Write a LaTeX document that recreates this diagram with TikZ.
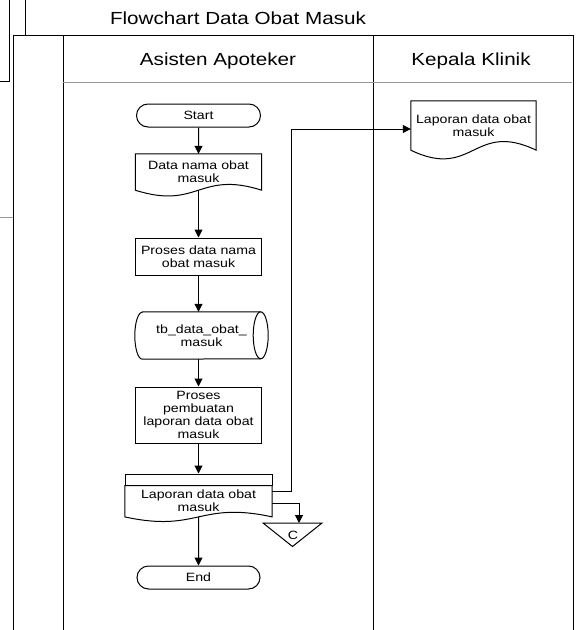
\documentclass[tikz,border=0pt]{standalone}
\usepackage{fontspec}
\setmainfont[FakeStretch=1.18]{Liberation Sans}
\usepackage{xcolor}
\usepackage{tikz}
\usetikzlibrary{arrows.meta,shapes.misc,calc,positioning}
\colorlet{colorLane}{black}
\colorlet{colorHead}{gray!80}
\colorlet{colorFlow}{black}
\tikzset{
   every path/.style={>={Triangle[length=8pt,width=8pt]}},
   flow/.style={->,draw=colorFlow,line width=1pt},
   lane/.style={draw=colorLane,line width=1pt},
   head/.style={draw=colorHead,line width=1pt},
   caption/.style={anchor=base,font=\fontsize{17.5}{20}\selectfont},
   term/.style={rounded rectangle,draw,line width=1pt,minimum width=126pt,minimum height=23pt,inner sep=1pt},
   proc/.style={rectangle,draw,line width=1pt,minimum width=126pt,align=center,inner sep=1pt},
   doc/.style={rectangle,minimum width=126pt,align=center,inner sep=1pt},
   store/.style={rectangle,minimum width=133pt,minimum height=47pt,align=center,inner sep=1pt},
}
% outline of a document symbol: flat top, wavy bottom
\newcommand{\docedge}[3]{%
  \draw[line width=1pt] (#1.north west) -- (#1.north east) -- (#1.south east)
    .. controls +(-#2,#3) and +(#2,-#3) .. (#1.south west) -- cycle;}

\begin{document}
\begin{tikzpicture}[x=1pt,y=1pt,font=\fontsize{12}{13}\selectfont]
\useasboundingbox (0,0) rectangle (576,-630);

% bits of the neighbouring page
\draw[lane] (25,0) -- (25,-35);
\draw[lane] (9,0) -- (9,-81) -- (0,-81);
\draw[head] (0,-217) -- (13,-217);

% pool and lanes
\draw[lane] (13,-630) -- (13,-35) -- (573,-35) -- (573,-630);
\draw[lane] (63,-35) -- (63,-630);
\draw[lane] (373,-35) -- (373,-630);
\draw[head] (63,-82) -- (572,-82);

\node[caption] (title) at (238,-24) {Flowchart Data Obat Masuk};
\node[caption] (asisten) at (218,-65) {Asisten Apoteker};
\node[caption] (kepala) at (471,-65) {Kepala Klinik};

% Asisten Apoteker
\node[term] (start) at (198.5,-115.5) {Start};
\node[doc,minimum height=36pt] (doc1) at (198.5,-172) {Data nama obat\\masuk};
\docedge{doc1}{63}{20}
\node[proc,minimum height=37pt] (proc1) at (198.5,-256.5) {Proses data nama\\obat masuk};
\node[store] (db) at (201.5,-335.5) {tb\_data\_obat\_\\masuk};
\draw[line width=1pt] ($(db.north west)+(7.5,0)$) -- ($(db.north east)+(-7.5,0)$)
   arc[start angle=90,end angle=-90,x radius=7.5,y radius=23.5]
   -- ($(db.south west)+(7.5,0)$)
   arc[start angle=270,end angle=90,x radius=7.5,y radius=23.5] -- cycle;
\draw[line width=1pt] ($(db.north east)+(-7.5,0)$) arc[start angle=90,end angle=270,x radius=7.5,y radius=23.5];
\node[proc,minimum height=56pt] (proc2) at (198.5,-415) {Proses\\pembuatan\\laporan data obat\\masuk};
\node[rectangle,draw,line width=1pt,minimum width=147pt,minimum height=11pt,inner sep=0pt] (laphead) at (198.5,-479.5) {};
\node[doc,minimum width=147pt,minimum height=31pt,below=0pt of laphead] (lap) {Laporan data obat\\masuk};
\docedge{lap}{73.5}{16}
\node[term,minimum width=125pt] (stop) at (198.5,-577.5) {End};

% off-page connector
\coordinate (ctop) at (299,-523);
\draw[line width=1pt] (263,-523) -- (322,-523) -- (292.5,-546.5) -- cycle;
\node (offc) at (293,-535) {C};

% Kepala Klinik
\node[doc,minimum width=125pt,minimum height=49pt] (kep) at (473.5,-125.5) {Laporan data obat\\masuk};
\docedge{kep}{62.5}{30}

\draw[flow] (start) -- (doc1);
\draw[flow] (doc1) -- (proc1);
\draw[flow] (proc1) -- (proc1 |- db.north);
\draw[flow] (proc1 |- db.south) -- (proc2);
\draw[flow] (proc2) -- (laphead);
\draw[flow] (lap) -- (stop);
\draw[flow] ($(lap.east)+(0,9.5)$) -- ++(19,0) |- ($(kep.west)+(0,-3.5)$);
\draw[flow] ($(lap.east)+(0,-2.5)$) -| (ctop);
\end{tikzpicture}
\end{document}
